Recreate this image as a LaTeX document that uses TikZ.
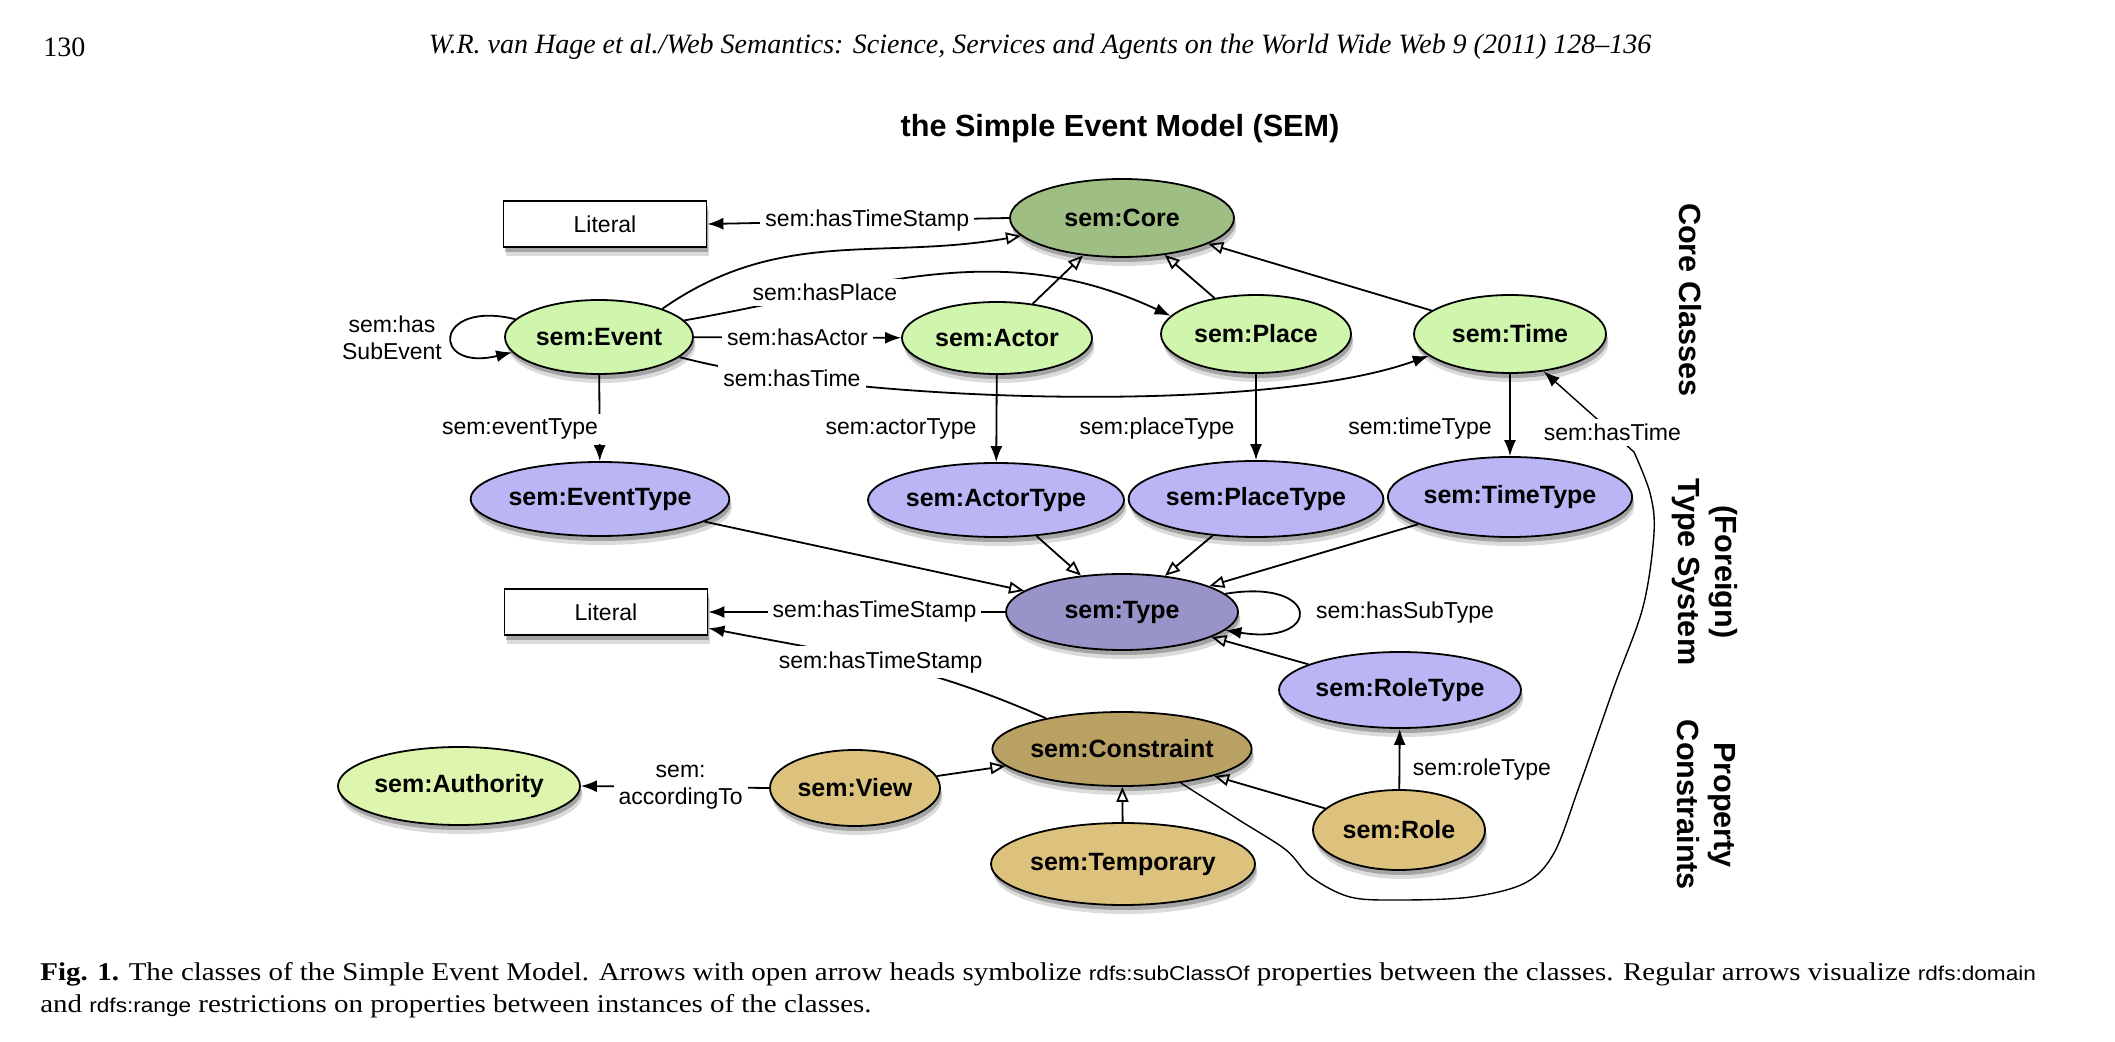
\documentclass[tikz,border=0pt]{standalone}
\usepackage{fontspec}
\setmainfont{Liberation Serif}
\newfontfamily\dsans{Liberation Sans}
\usetikzlibrary{arrows.meta,shapes.geometric,shadows}
\definecolor{lgreen}{HTML}{CFF6AC}
\definecolor{agreen}{HTML}{DDF5AD}
\definecolor{dgreen}{HTML}{9EBE84}
\definecolor{lpurple}{HTML}{BAB5F4}
\definecolor{dpurple}{HTML}{9893C8}
\definecolor{ltan}{HTML}{DCC27C}
\definecolor{dtan}{HTML}{B9A164}
\begin{document}
\begin{tikzpicture}[x=0.5pt,y=0.5pt,
  shd/.style={drop shadow={shadow xshift=0.8pt,shadow yshift=-2.5pt,opacity=0.25,fill=black},
              drop shadow={shadow xshift=1.2pt,shadow yshift=-4.5pt,opacity=0.14,fill=black}},
  cls/.style n args={3}{ellipse, draw=black, line width=0.9pt, inner sep=0pt,
     minimum width=#1pt, minimum height=#2pt, fill=#3, shd,
     font=\dsans\bfseries\fontsize{12.5}{15}\selectfont},
  lit/.style={rectangle, draw=black, line width=0.9pt, fill=white, inner sep=0pt,
     minimum width=101.5pt, minimum height=23pt, shd,
     font=\dsans\fontsize{11.5}{14}\selectfont},
  lbl/.style={font=\dsans\fontsize{11.5}{13.5}\selectfont, fill=white, inner sep=2.5pt},
  rot/.style={font=\dsans\bfseries\fontsize{15.3}{18.5}\selectfont, rotate=-90, align=center, inner sep=0pt},
  prop/.style={draw, line width=0.9pt, -{Latex[length=8pt,width=6pt]}},
  sub/.style={draw, line width=0.9pt, -{Triangle[open,length=7.5pt,width=6pt]}},
  txt/.style={inner sep=0pt}
]
\path[use as bounding box] (0,0) rectangle (2115,-1042);

% header
\node[txt, anchor=west] (pgno) at (43,-47) {\fontsize{14}{16}\selectfont 130};
\node[txt] (hdr) at (1040,-47) {\fontsize{14}{16}\selectfont\itshape W.R. van Hage et al./Web Semantics: Science, Services and Agents on the World Wide Web 9 (2011) 128--136};

% title
\node[txt] (title) at (1120,-129) {\dsans\bfseries\fontsize{15.3}{18}\selectfont the Simple Event Model (SEM)};

% nodes
\node[lit] (lit1) at (605,-224) {Literal};
\node[cls={112}{39}{dgreen}] (core) at (1122,-218) {sem:Core};
\node[cls={94}{37}{lgreen}] (event) at (599,-337) {sem:Event};
\node[cls={95}{36}{lgreen}] (actor) at (997,-338) {sem:Actor};
\node[cls={95}{39}{lgreen}] (place) at (1256,-334) {sem:Place};
\node[cls={96}{39}{lgreen}] (time) at (1510,-334) {sem:Time};

\node[cls={128}{37}{lpurple}] (eventtype) at (600,-499) {sem:EventType};
\node[cls={128}{37}{lpurple}] (actortype) at (996,-500) {sem:ActorType};
\node[cls={127}{38}{lpurple}] (placetype) at (1256,-499) {sem:PlaceType};
\node[cls={121}{40}{lpurple}] (timetype) at (1510,-497) {sem:TimeType};
\node[cls={116}{38}{dpurple}] (type) at (1122,-612) {sem:Type};
\node[lit] (lit2) at (606,-612) {Literal};
\node[cls={121}{38}{lpurple}] (roletype) at (1400,-690) {sem:RoleType};

\node[cls={127}{37}{dtan}] (constraint) at (1122,-749) {sem:Constraint};
\node[cls={85}{38}{ltan}] (view) at (855,-788) {sem:View};
\node[cls={121}{39}{agreen}] (authority) at (459,-786) {sem:Authority};
\node[cls={132}{41}{ltan}] (temporary) at (1123,-864) {sem:Temporary};
\node[cls={86}{40}{ltan}] (role) at (1399,-830) {sem:Role};

% side labels
\node[rot] (lcore) at (1690,-300) {Core Classes};
\node[rot] (ltype) at (1705,-572) {(Foreign)\\Type System};
\node[rot] (lprop) at (1706,-805) {Property\\Constraints};

% edges: core classes
\draw[prop] (core.west) -- node[lbl,pos=0.47] (l1) {sem:hasTimeStamp} (lit1.east);
\draw[sub] (event.24) to[out=35,in=190] (core.190);
\draw[sub] (actor) -- (core);
\draw[sub] (place) -- (core);
\draw[sub] (time) -- (core);
\draw[prop] (event.11) to[out=10,in=155] node[lbl,pos=0.27] (l2) {sem:hasPlace} (place.168);
\draw[prop] (event) -- node[lbl] (l3) {sem:hasActor} (actor);
\draw[prop] (event.-14) to[out=-15,in=200,looseness=0.6] node[lbl,pos=0.18] (l4) {sem:hasTime} (time.195);
\draw[prop] (event.168) .. controls +(-82,20) and +(-82,-20) .. (event.190);
\node[lbl, align=center, fill=none] (l5) at (392,-338) {sem:has\\SubEvent};

% type edges
\draw[prop] (event) -- (eventtype);
\draw[prop] (actor) -- (actortype);
\draw[prop] (place) -- (placetype);
\draw[prop] (time) -- (timetype);
\node[lbl] (l6) at (520,-429) {sem:eventType};
\node[lbl] (l7) at (901,-429) {sem:actorType};
\node[lbl] (l8) at (1157,-429) {sem:placeType};
\node[lbl] (l9) at (1420,-429) {sem:timeType};

\draw[sub] (eventtype) -- (type);
\draw[sub] (actortype) -- (type);
\draw[sub] (placetype) -- (type);
\draw[sub] (timetype) -- (type);
\draw[sub] (roletype) -- (type);
\draw[prop] (type.10) .. controls +(97,16) and +(97,-16) .. (type.-10);
\node[lbl] (l10) at (1405,-613) {sem:hasSubType};
\draw[prop] (type.west) -- node[lbl,pos=0.44] (l11) {sem:hasTimeStamp} (lit2.east);
\draw[prop] (constraint.158) to[out=156,in=-11] node[lbl,pos=0.5] (l12) {sem:hasTimeStamp} (lit2.-9);

% constraints
\draw[sub] (view) -- (constraint);
\draw[prop] (view.west) -- node[lbl,pos=0.47,align=center] (l13) {sem:\\accordingTo} (authority.east);
\draw[sub] (temporary) -- (constraint);
\draw[sub] (role) -- (constraint);
\draw[prop] (role) -- (roletype);
\node[lbl] (l14) at (1482,-770) {sem:roleType};

% long hasTime
\coordinate (h0) at (constraint.-30);
\draw[prop, line width=0.7pt] plot[smooth, tension=0.55] coordinates {(h0) (1239,-820) (1286,-850) (1311,-877) (1350,-897) (1400,-900) (1471,-897) (1525,-883) (1554,-853) (1579,-787) (1614,-687) (1643,-607) (1654,-533) (1650,-493) (1634,-452)} -- node[lbl,pos=0.24] (l15) {sem:hasTime} (time.-48);

% caption
\node[txt, anchor=west] (cap1) at (40,-974) {\scalebox{1.13}[1]{\fontsize{12.8}{15}\selectfont\textbf{Fig. 1.} The classes of the Simple Event Model. Arrows with open arrow heads symbolize {\dsans\fontsize{10}{12}\selectfont rdfs:subClassOf} properties between the classes. Regular arrows visualize {\dsans\fontsize{10}{12}\selectfont rdfs:domain}}};
\node[txt, anchor=west] (cap2) at (40,-1006) {\scalebox{1.13}[1]{\fontsize{12.8}{15}\selectfont and {\dsans\fontsize{10}{12}\selectfont rdfs:range} restrictions on properties between instances of the classes.}};
\end{tikzpicture}
\end{document}
